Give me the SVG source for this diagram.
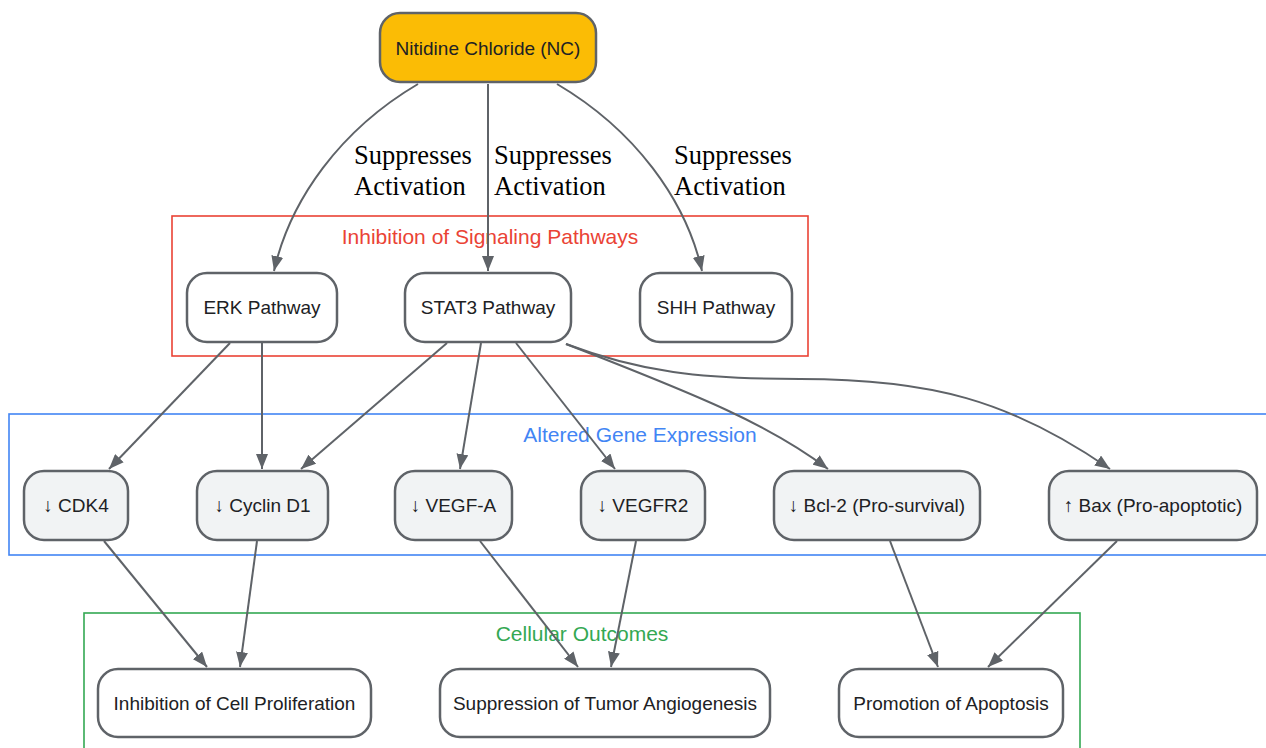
<svg xmlns="http://www.w3.org/2000/svg" width="1266" height="748" viewBox="0 0 1266 748">
<style>
.node rect{stroke:#5f6368;stroke-width:2.5;}
.plain rect{fill:#ffffff;}
.gene rect{fill:#f1f3f4;}
.node text{font-family:"Liberation Sans",Arial,sans-serif;font-size:19px;fill:#202124;text-anchor:middle;}
.cluster rect{fill:none;stroke-width:1.6;}
.cluster text{font-family:"Liberation Sans",Arial,sans-serif;font-size:21px;text-anchor:middle;}
.edges path{fill:none;stroke:#5f6368;stroke-width:2;}
.elabel text{font-family:"Liberation Serif","Times New Roman",serif;font-size:26.5px;fill:#000;text-anchor:start;}
</style>
<defs>
<marker id="arr" markerUnits="userSpaceOnUse" markerWidth="16" markerHeight="12" refX="15" refY="6" orient="auto">
<path d="M0,0 L15,6 L0,12 z" fill="#5f6368"/>
</marker>
</defs>
<rect x="0" y="0" width="1266" height="748" fill="#ffffff"/>

<g id="cluster-signaling" class="cluster">
<rect x="172" y="216" width="636" height="140" stroke="#ea4335"/>
<text x="490" y="244" fill="#ea4335">Inhibition of Signaling Pathways</text>
</g>
<g id="cluster-gene" class="cluster">
<rect x="9" y="414" width="1265" height="141" stroke="#4285f4"/>
<text x="640" y="442" fill="#4285f4">Altered Gene Expression</text>
</g>
<g id="cluster-outcomes" class="cluster">
<rect x="84" y="613" width="996" height="145" stroke="#34a853"/>
<text x="582" y="641" fill="#34a853">Cellular Outcomes</text>
</g>

<g id="edges" class="edges">
<path d="M418,84 C340,130 290,200 274,271" marker-end="url(#arr)"/>
<path d="M488,84 L488,271" marker-end="url(#arr)"/>
<path d="M557,84 C635,130 686,200 702,271" marker-end="url(#arr)"/>
<path d="M230,343 L109,469" marker-end="url(#arr)"/>
<path d="M262,343 L262,469" marker-end="url(#arr)"/>
<path d="M447,343 L301,469" marker-end="url(#arr)"/>
<path d="M481,343 L460,469" marker-end="url(#arr)"/>
<path d="M516,343 L615,469" marker-end="url(#arr)"/>
<path d="M566,344 C700,396 770,425 828,469" marker-end="url(#arr)"/>
<path d="M566,344 C640,372 700,379 800,379 C930,379 1010,400 1110,469" marker-end="url(#arr)"/>
<path d="M104,541 L207,667" marker-end="url(#arr)"/>
<path d="M257,541 L240,667" marker-end="url(#arr)"/>
<path d="M480,541 L578,667" marker-end="url(#arr)"/>
<path d="M636,541 L611,667" marker-end="url(#arr)"/>
<path d="M890,541 L938,667" marker-end="url(#arr)"/>
<path d="M1117,541 L988,667" marker-end="url(#arr)"/>
</g>

<g id="edge-labels" class="elabel">
<text x="354" y="164">Suppresses</text>
<text x="354" y="195">Activation</text>
<text x="494" y="164">Suppresses</text>
<text x="494" y="195">Activation</text>
<text x="674" y="164">Suppresses</text>
<text x="674" y="195">Activation</text>
</g>

<g id="nc" class="node">
<rect x="380" y="13" width="216" height="69" rx="20" fill="#fbbc05"/>
<text x="488" y="54.5">Nitidine Chloride (NC)</text>
</g>
<g id="erk" class="node plain">
<rect x="187" y="273" width="150" height="69" rx="20"/>
<text x="262" y="314">ERK Pathway</text>
</g>
<g id="stat3" class="node plain">
<rect x="405" y="273" width="166" height="69" rx="20"/>
<text x="488" y="314">STAT3 Pathway</text>
</g>
<g id="shh" class="node plain">
<rect x="640" y="273" width="152" height="69" rx="20"/>
<text x="716" y="314">SHH Pathway</text>
</g>

<g id="cdk4" class="node gene">
<rect x="24" y="471" width="104" height="69" rx="20"/>
<text x="76" y="512">↓ CDK4</text>
</g>
<g id="cyclind1" class="node gene">
<rect x="197" y="471" width="131" height="69" rx="20"/>
<text x="262.5" y="512">↓ Cyclin D1</text>
</g>
<g id="vegfa" class="node gene">
<rect x="395" y="471" width="117" height="69" rx="20"/>
<text x="453.5" y="512">↓ VEGF-A</text>
</g>
<g id="vegfr2" class="node gene">
<rect x="581" y="471" width="124" height="69" rx="20"/>
<text x="643" y="512">↓ VEGFR2</text>
</g>
<g id="bcl2" class="node gene">
<rect x="774" y="471" width="206" height="69" rx="20"/>
<text x="877" y="512">↓ Bcl-2 (Pro-survival)</text>
</g>
<g id="bax" class="node gene">
<rect x="1049" y="471" width="208" height="69" rx="20"/>
<text x="1153" y="512">↑ Bax (Pro-apoptotic)</text>
</g>

<g id="prolif" class="node plain">
<rect x="98" y="669" width="273" height="68" rx="20"/>
<text x="234.5" y="710">Inhibition of Cell Proliferation</text>
</g>
<g id="angio" class="node plain">
<rect x="440" y="669" width="330" height="68" rx="20"/>
<text x="605" y="710">Suppression of Tumor Angiogenesis</text>
</g>
<g id="apoptosis" class="node plain">
<rect x="839" y="669" width="224" height="68" rx="20"/>
<text x="951" y="710">Promotion of Apoptosis</text>
</g>
</svg>
